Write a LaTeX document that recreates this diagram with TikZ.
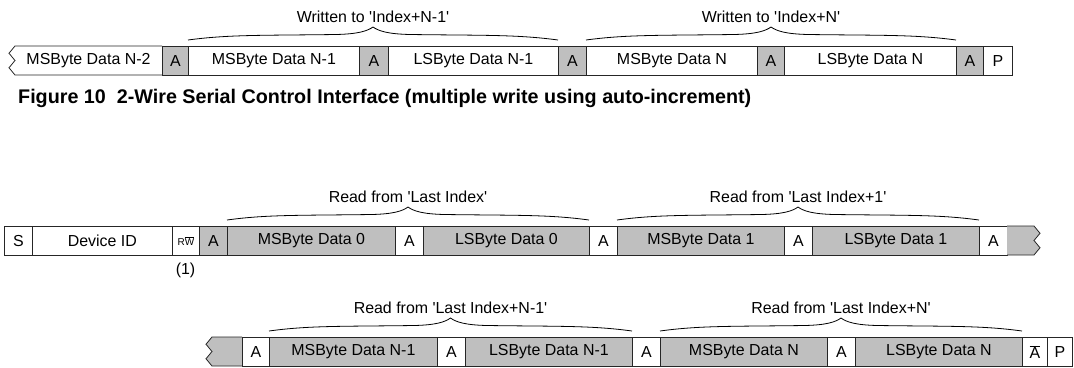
\documentclass[tikz,border=0pt]{standalone}
\usepackage{fontspec}
\setmainfont{Liberation Sans}
\newcommand\bodyfont{\fontsize{16}{18}\selectfont}
\newcommand\q{\textquotesingle}
\newcommand\bx[6]{\node[box,#5,minimum width={(#3-#2)*1bp}] (#1) at (#2,#4) {#6};}
\newcommand\brc[5]{%
  \pgfmathsetmacro\xm{(#2+#3)/2}\pgfmathsetmacro\hl{(#3-#2)/2}%
  \draw[bracestyle] (#2,#4-6) .. controls (#2+0.22*\hl,#4-11.5) and (\xm-0.6*\hl,#4-10.5) .. (\xm-0.2*\hl,#4-11.5)
     .. controls (\xm-0.08*\hl,#4-12) and (\xm-0.03*\hl,#4-15) .. (\xm,#4-19)
     .. controls (\xm+0.03*\hl,#4-15) and (\xm+0.08*\hl,#4-12) .. (\xm+0.2*\hl,#4-11.5)
     .. controls (\xm+0.6*\hl,#4-10.5) and (#3-0.22*\hl,#4-11.5) .. (#3,#4-6);
  \node[lbl] (#1) at (\xm,#4-29) {#5};}
\begin{document}
\begin{tikzpicture}[x=1bp,y=-1bp,
  box/.style={draw=black!85, line width=0.8bp, inner sep=0pt, minimum height=29bp, anchor=north west, font=\bodyfont},
  gr/.style={fill=black!25},
  wh/.style={fill=white},
  edge/.style={draw=black!85, line width=0.8bp},
  lbl/.style={font=\bodyfont, inner sep=0pt},
  bracestyle/.style={draw=black, line width=0.8bp}]
\useasboundingbox (0,0) rectangle (1074,367);
% ---------- row 1 ----------
\filldraw[edge,fill=white] (162,46) -- (15,46) -- (9,53.25) -- (15,60.5) -- (9,67.75) -- (15,75) -- (162,75);
\node[lbl] (z1) at (88.5,60.5) {MSByte Data N-2};
\bx{a1}{162}{188}{46}{gr}{A}
\bx{m1}{188}{359}{46}{wh}{MSByte Data N-1}
\bx{a2}{359}{388}{46}{gr}{A}
\bx{l1}{388}{558}{46}{wh}{LSByte Data N-1}
\bx{a3}{558}{586}{46}{gr}{A}
\bx{m2}{586}{757}{46}{wh}{MSByte Data N}
\bx{a4}{757}{784}{46}{gr}{A}
\bx{l2}{784}{956}{46}{wh}{LSByte Data N}
\bx{a5}{956}{983}{46}{gr}{A}
\bx{p1}{983}{1012}{46}{wh}{P}
\brc{w1}{188}{558}{46}{Written to \q Index+N-1\q}
\brc{w2}{586}{956}{46}{Written to \q Index+N\q}
% caption
\node[anchor=west, inner sep=0pt, font=\fontsize{19.8}{22}\selectfont\bfseries] (cap) at (18,98)
  {Figure 10~~2-Wire Serial Control Interface (multiple write using auto-increment)};
% ---------- row 2 ----------
\bx{s}{4}{32}{226}{wh}{S}
\bx{dev}{32}{172}{226}{wh}{Device ID}
\bx{rw}{172}{199}{226}{wh}{\fontsize{10}{12}\selectfont R$\overline{\hbox{W}}$}
\bx{b1}{199}{227}{226}{gr}{A}
\bx{b2}{227}{395}{226}{gr}{MSByte Data 0}
\bx{b3}{395}{423}{226}{wh}{A}
\bx{b4}{423}{589}{226}{gr}{LSByte Data 0}
\bx{b5}{589}{617}{226}{wh}{A}
\bx{b6}{617}{784}{226}{gr}{MSByte Data 1}
\bx{b7}{784}{812}{226}{wh}{A}
\bx{b8}{812}{979}{226}{gr}{LSByte Data 1}
\bx{b9}{979}{1007}{226}{wh}{A}
\filldraw[edge,fill=black!25] (1007,226) -- (1034,226) -- (1040,233.25) -- (1034,240.5) -- (1040,247.75) -- (1034,255) -- (1007,255);
\brc{r1}{227}{589}{226}{Read from \q Last Index\q}
\brc{r2}{617}{979}{226}{Read from \q Last Index+1\q}
\node[lbl] (note) at (185.5,270) {(1)};
% ---------- row 3 ----------
\filldraw[edge,fill=black!25] (242,337) -- (212,337) -- (206,344.25) -- (212,351.5) -- (206,358.75) -- (212,366) -- (242,366);
\bx{c1}{242}{269}{337}{wh}{A}
\bx{c2}{269}{437}{337}{gr}{MSByte Data N-1}
\bx{c3}{437}{465}{337}{wh}{A}
\bx{c4}{465}{632}{337}{gr}{LSByte Data N-1}
\bx{c5}{632}{660}{337}{wh}{A}
\bx{c6}{660}{827}{337}{gr}{MSByte Data N}
\bx{c7}{827}{855}{337}{wh}{A}
\bx{c8}{855}{1022}{337}{gr}{LSByte Data N}
\bx{c9}{1022}{1047}{337}{wh}{$\overline{\hbox{A}}$}
\bx{c10}{1047}{1072}{337}{wh}{P}
\brc{r3}{269}{632}{337}{Read from \q Last Index+N-1\q}
\brc{r4}{660}{1022}{337}{Read from \q Last Index+N\q}
\end{tikzpicture}
\end{document}
